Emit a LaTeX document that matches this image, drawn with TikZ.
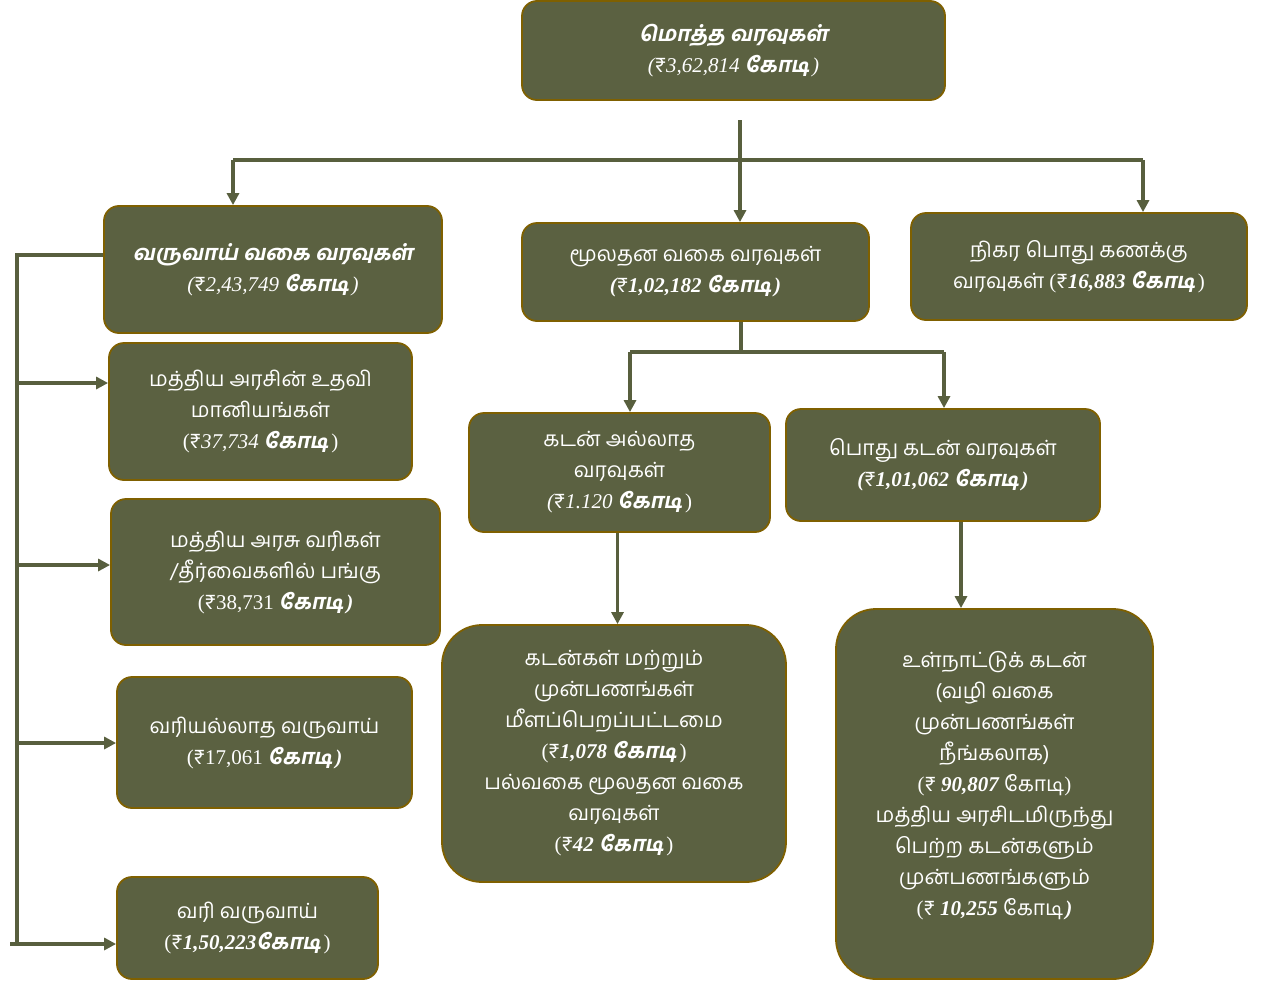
\documentclass[tikz,border=0pt]{standalone}
\usepackage{fontspec}
\setmainfont[Script=Tamil,
  ItalicFont={Hind Madurai}, ItalicFeatures={FakeSlant=0.2},
  BoldFont={Hind Madurai Bold},
  BoldItalicFont={Hind Madurai Bold}, BoldItalicFeatures={FakeSlant=0.2}]{Hind Madurai}
\newfontfamily\lsf{Liberation Serif}
\usetikzlibrary{arrows.meta}
\definecolor{olivefill}{RGB}{91,97,65}
\definecolor{brd}{RGB}{127,96,0}
\definecolor{lc}{RGB}{88,95,62}
% amounts
\newcommand\ai[1]{{\lsf\itshape #1}}
\newcommand\ab[1]{{\lsf\bfseries\itshape #1}}
\newcommand\au[1]{{\lsf #1}}
\newcommand\kodi{{\bfseries\itshape கோடி}\kern3pt}
\begin{document}
\begin{tikzpicture}[x=1pt,y=-1pt,
  box/.style={draw=brd, fill=olivefill, line width=1.8pt, rounded corners=15pt,
    text=white, align=center, inner sep=0pt, font=\fontsize{21}{31}\selectfont},
  bigbox/.style={box, rounded corners=40pt},
  conn/.style={draw=lc, line width=3.2pt},
  arr/.style={conn, -{Triangle[length=12pt,width=12pt]}}]
\useasboundingbox (0,0) rectangle (1271,985);
\fill[white] (0,0) rectangle (1271,985);

\node[box, minimum width=423, minimum height=99] (n1) at (733.5,50.5)
  {{\bfseries\itshape மொத்த வரவுகள்}\\\ai{(}₹\ai{3,62,814} \kodi\ai{)}};
\node[box, minimum width=338, minimum height=127] (n2) at (273,269.5)
  {{\bfseries\itshape வருவாய் வகை வரவுகள்}\\\ai{(}₹\ai{2,43,749} \kodi\ai{)}};
\node[box, minimum width=347, minimum height=98] (n3) at (695.5,272)
  {மூலதன வகை வரவுகள்\\\ab{(}₹\ab{1,02,182} \kodi\ab{)}};
\node[box, minimum width=336, minimum height=107] (n4) at (1079,266.5)
  {நிகர பொது கணக்கு\\வரவுகள் \au{(}₹\ab{16,883} \kodi\au{)}};
\node[box, minimum width=303, minimum height=137] (n5) at (260.5,411.5)
  {மத்திய அரசின் உதவி\\மானியங்கள்\\\au{(}₹\ai{37,734} \kodi\au{)}};
\node[box, minimum width=329, minimum height=146] (n6) at (275.5,572)
  {மத்திய அரசு வரிகள்\\/தீர்வைகளில் பங்கு\\\au{(}₹\au{38,731} \kodi\ab{)}};
\node[box, minimum width=295, minimum height=131] (n7) at (264.5,742.5)
  {வரியல்லாத வருவாய்\\\au{(}₹\au{17,061} \kodi\ab{)}};
\node[box, minimum width=261, minimum height=102] (n8) at (247.5,928)
  {வரி வருவாய்\\\au{(}₹\ab{1,50,223}\kodi\au{)}};
\node[box, minimum width=301, minimum height=119] (n9) at (619.5,472.5)
  {கடன் அல்லாத\\வரவுகள்\\\ai{(}₹\ai{1.120} \kodi\au{)}};
\node[box, minimum width=314, minimum height=112] (n10) at (943,465)
  {பொது கடன் வரவுகள்\\\ab{(}₹\ab{1,01,062} \kodi\ab{)}};
\node[bigbox, minimum width=344, minimum height=257] (n11) at (614,753.5)
  {கடன்கள் மற்றும்\\முன்பணங்கள்\\மீளப்பெறப்பட்டமை\\\au{(}₹\ab{1,078} \kodi\au{)}\\பல்வகை மூலதன வகை\\வரவுகள்\\\au{(}₹\ab{42} \kodi\au{)}};
\node[bigbox, minimum width=317, minimum height=370] (n12) at (994.5,794)
  {உள்நாட்டுக் கடன்\\(வழி வகை\\முன்பணங்கள்\\நீங்கலாக)\\\au{(}₹ \ab{90,807} கோடி\au{)}\\மத்திய அரசிடமிருந்து\\பெற்ற கடன்களும்\\முன்பணங்களும்\\\au{(}₹ \ab{10,255} கோடி\kern2pt\ab{)}\\[-9pt]};

% top connectors
\coordinate (t0) at (740,120);
\coordinate (bl) at (233,160);
\coordinate (br) at (1143,160);
\draw[arr] (t0) -- (t0 |- n3.north);
\draw[conn] (bl) -- (br);
\draw[arr] (bl) -- (bl |- n2.north);
\draw[arr] (br) -- (br |- n4.north);

% capital split
\coordinate (m0) at (741,352);
\coordinate (ml) at (630,352);
\coordinate (mr) at (944,352);
\draw[conn] (m0 |- n3.south) -- (m0);
\draw[conn] (ml) -- (mr);
\draw[arr] (ml) -- (ml |- n9.north);
\draw[arr] (mr) -- (mr |- n10.north);
\draw[arr] ([xshift=-2pt]n9.south) -- ([xshift=-2pt]n9.south |- n11.north);
\draw[arr] ([xshift=18pt]n10.south) -- ([xshift=18pt]n10.south |- n12.north);

% left bus
\coordinate (lt) at (17,255);
\coordinate (lb) at (17,944);
\coordinate (a5) at (17,383);
\coordinate (a6) at (17,565);
\coordinate (a7) at (17,743);
\coordinate (a8) at (10,944);
\draw[conn] (lt -| n2.west) -- (lt) -- (lb);
\draw[arr] (a5) -- (a5 -| n5.west);
\draw[arr] (a6) -- (a6 -| n6.west);
\draw[arr] (a7) -- (a7 -| n7.west);
\draw[arr] (a8) -- (a8 -| n8.west);
\end{tikzpicture}
\end{document}
